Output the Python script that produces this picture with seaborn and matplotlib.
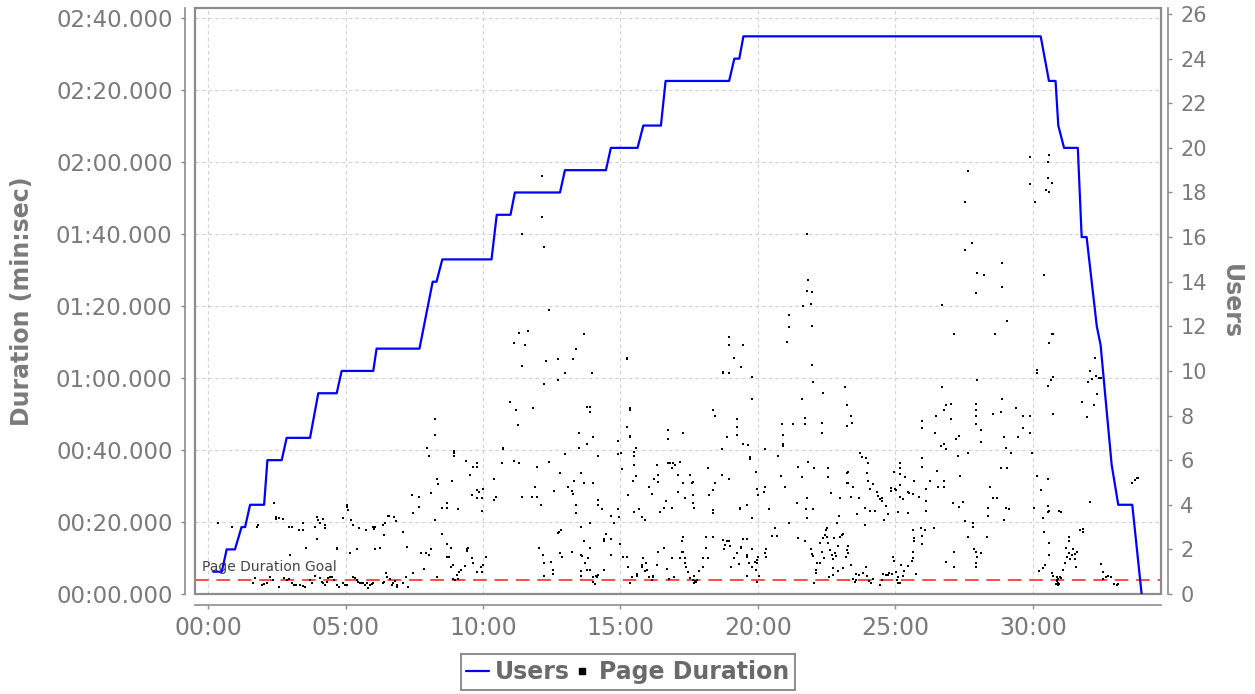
import matplotlib
matplotlib.use("Agg")
import matplotlib.pyplot as plt
import matplotlib.transforms as mtransforms
import seaborn as sns
import pandas as pd
from matplotlib.ticker import FuncFormatter, MultipleLocator
from matplotlib.lines import Line2D
from matplotlib.patches import Rectangle

# ---------------- data ----------------
# Users over time (minutes, users)
user_minutes = [0.19, 0.50, 0.68, 0.98, 1.22, 1.35, 1.53, 2.04, 2.16, 2.68, 2.86, 3.71,
                4.01, 4.68, 4.86, 6.01, 6.13, 7.69, 8.17, 8.31, 8.52, 10.31, 10.50, 11.00,
                11.16, 12.80, 12.98, 14.47, 14.65, 15.62, 15.83, 16.47, 16.64, 18.95, 19.14,
                19.32, 19.47, 30.28, 30.58, 30.82, 30.92, 31.13, 31.63, 31.77, 31.95, 32.32,
                32.46, 32.65, 32.86, 33.10, 33.61, 33.95]
user_counts = [1, 1, 2, 2, 3, 3, 4, 4, 6, 6, 7, 7,
               9, 9, 10, 10, 11, 11, 14, 14, 15, 15, 17, 17,
               18, 18, 19, 19, 20, 20, 21, 21, 23, 23, 24,
               24, 25, 25, 23, 23, 21, 20, 20, 16, 16, 12,
               11.15, 8.6, 5.8, 4, 4, 0]

# Page durations: (elapsed minutes, duration seconds), grouped by test phase
page_ramp_early = [
    (0.38, 19.6), (0.88, 18.7), (1.83, 19.2), (1.77, 18.7), (2.41, 25.2), (2.47, 21.5), (2.47, 20.7),
    (2.59, 21.0), (2.74, 20.7), (2.93, 18.7), (3.04, 18.7), (3.32, 17.8), (3.47, 17.8), (3.47, 19.6),
    (3.56, 12.9), (3.95, 21.5), (4.01, 20.5), (4.07, 19.6), (4.19, 20.7), (4.25, 19.2), (4.25, 18.2),
    (3.89, 18.7), (3.95, 15.3), (2.98, 10.8), (4.68, 12.7), (4.68, 12.4), (4.92, 21.0), (5.04, 24.7),
    (5.06, 24.3), (5.10, 23.3), (5.20, 20.5), (5.26, 19.2), (5.16, 11.3), (5.43, 12.4), (5.50, 18.2),
    (5.75, 17.8), (6.01, 18.7), (6.03, 18.1), (6.07, 18.5), (6.07, 12.4), (6.25, 12.9), (6.35, 19.2),
    (6.44, 19.6), (6.41, 16.4), (6.53, 21.7), (6.59, 21.7), (6.76, 21.5), (6.82, 20.4), (7.10, 17.3),
    (7.22, 13.1), (7.41, 27.5), (7.47, 22.6), (7.68, 27.0), (7.68, 24.1), (7.73, 11.3), (7.93, 11.3),
    (8.05, 10.8), (8.10, 12.4), (7.87, 6.9), (7.95, 40.7), (8.05, 38.3), (8.25, 48.5), (8.25, 44.2),
    (8.31, 31.9), (8.38, 30.5), (8.11, 28.1), (8.25, 20.5), (8.50, 24.0), (8.68, 25.2), (8.70, 24.0),
    (8.50, 16.7), (8.68, 13.8), (8.82, 12.9), (8.70, 10.4), (8.76, 10.4), (8.88, 31.4), (8.96, 39.7),
    (8.96, 39.1), (8.96, 38.3), (9.08, 23.5), (8.84, 7.6), (8.90, 8.1), (9.04, 5.3), (9.14, 6.2),
    (9.19, 6.7), (9.35, 7.8), (9.38, 36.9), (9.41, 11.9), (9.43, 12.4), (9.47, 12.9), (9.53, 33.1),
    (9.59, 27.5), (9.59, 9.9), (9.62, 8.5), (9.65, 35.4), (9.77, 36.3), (9.79, 35.4), (9.77, 28.9),
    (9.87, 28.4), (10.01, 29.3), (9.79, 26.6), (9.98, 26.6), (9.98, 23.1), (9.79, 6.2), (9.91, 7.6),
    (9.98, 6.2), (10.01, 8.1), (10.11, 10.4), (10.41, 31.9), (10.41, 26.1), (10.47, 27.0), (10.68, 36.3),
    (10.74, 40.5), (10.74, 40.2), (10.98, 53.4), (11.13, 69.6), (11.20, 51.1), (11.26, 46.9),
    (11.14, 36.9), (11.32, 36.3), (11.32, 72.6),
    (1.65, 3.0), (1.71, 4.4), (1.95, 2.5), (2.04, 2.7), (2.16, 3.0), (2.25, 4.8), (2.38, 3.9),
    (2.59, 2.0), (2.76, 4.4), (2.86, 3.9), (2.96, 4.1), (3.04, 3.0), (3.13, 2.5), (3.20, 2.5),
    (3.35, 2.5), (3.47, 2.2), (3.53, 2.0), (3.71, 3.9), (3.77, 3.0), (3.89, 5.0), (4.07, 4.4),
    (4.13, 3.4), (4.19, 3.0), (4.25, 2.5), (4.31, 3.4), (4.38, 4.4), (4.44, 4.8), (4.50, 4.8),
    (4.58, 3.9), (4.68, 2.5), (4.78, 2.0), (4.92, 3.0), (4.98, 2.5), (5.04, 2.5), (5.26, 4.8),
    (5.34, 4.4), (5.41, 3.9), (5.47, 3.4), (5.53, 3.0), (5.59, 3.1), (5.65, 3.0), (5.71, 2.5),
    (5.77, 3.0), (5.83, 1.8), (5.89, 2.5), (5.95, 2.8), (6.01, 3.1), (6.35, 3.0), (6.41, 3.4),
    (6.46, 5.9), (6.50, 4.6), (6.62, 4.3), (6.70, 2.5), (6.74, 3.0), (6.80, 3.6), (6.86, 2.5),
    (6.88, 2.0), (7.10, 3.1), (7.20, 4.6), (7.28, 2.0), (7.47, 5.9), (8.31, 4.6), (8.92, 4.1),
    (8.98, 3.9), (9.10, 4.1),
]

page_ramp_late = [
    (12.16, 116.1), (12.16, 104.8), (11.40, 99.9), (12.23, 96.5), (21.77, 99.9), (21.83, 87.2),
    (21.77, 84.3), (21.95, 83.8),
    (12.41, 78.9), (11.65, 73.1), (11.53, 69.2), (11.40, 63.3), (11.83, 51.6), (12.28, 64.7),
    (12.22, 58.3), (12.74, 65.2), (12.74, 59.4), (12.98, 61.3), (13.26, 65.2), (13.38, 68.1),
    (13.68, 72.1), (13.95, 61.3), (13.77, 52.0), (13.89, 52.0), (13.89, 50.5), (14.01, 43.7),
    (13.80, 41.7), (13.50, 44.6), (13.50, 40.7), (11.40, 27.0), (11.77, 27.0), (11.95, 27.0),
    (11.97, 35.4), (11.89, 29.8), (12.10, 24.6), (12.41, 36.8), (12.80, 33.5), (12.99, 38.8),
    (12.59, 28.5), (13.10, 29.6), (13.22, 28.6), (13.28, 27.9), (13.31, 31.5), (13.37, 24.7),
    (13.37, 22.6), (13.56, 33.7), (13.56, 18.7), (13.68, 30.9), (14.01, 30.9), (14.19, 38.3),
    (14.19, 26.1), (14.19, 24.7), (14.34, 23.6), (14.65, 21.7), (14.65, 15.2), (14.77, 19.6),
    (14.90, 38.8), (14.92, 42.6), (15.02, 39.3), (15.04, 34.8), (15.22, 65.6), (15.22, 65.3),
    (15.34, 51.8), (15.34, 51.1), (15.22, 46.5), (15.34, 44.0), (15.34, 43.7), (15.49, 39.5),
    (15.49, 38.3), (15.49, 35.8), (15.56, 40.7), (15.55, 32.9), (15.46, 31.4), (15.28, 27.5),
    (14.92, 23.6), (14.96, 21.5), (15.49, 22.9), (15.68, 23.5), (15.80, 21.5), (15.89, 20.5),
    (16.05, 29.8), (16.13, 27.9), (16.22, 31.9), (16.31, 35.8), (16.37, 33.1), (16.37, 31.2),
    (16.43, 22.9), (16.58, 24.0), (16.64, 25.9), (16.71, 45.5), (16.71, 43.2), (16.71, 36.3),
    (16.80, 36.3), (16.92, 36.3), (16.98, 35.8), (16.88, 34.9), (16.88, 24.0), (17.08, 33.1),
    (17.08, 28.4), (17.16, 36.7), (17.28, 44.6), (17.28, 30.9), (17.34, 26.6), (17.53, 33.1),
    (17.59, 30.7), (17.65, 31.2), (17.65, 27.5), (17.62, 25.2), (17.68, 24.0), (18.19, 34.9),
    (18.23, 27.5), (18.37, 51.1), (18.43, 49.4), (18.43, 30.9), (18.37, 28.9), (18.37, 23.3),
    (18.37, 22.6), (18.70, 40.2), (18.70, 33.1), (18.74, 61.8), (18.74, 61.5), (18.94, 61.3),
    (18.94, 71.5), (18.96, 69.2), (19.14, 65.7), (19.38, 63.1), (19.47, 69.2), (18.88, 43.7),
    (18.96, 31.9), (19.22, 48.5), (19.22, 46.5), (19.22, 44.1), (19.47, 41.8), (19.65, 41.4),
    (19.71, 38.1), (19.71, 37.4), (19.77, 60.4), (19.79, 54.3), (19.91, 33.8), (19.97, 29.3),
    (20.01, 27.5), (20.25, 40.2), (20.25, 29.8), (20.23, 28.4), (19.59, 24.6), (19.34, 24.0),
    (19.34, 23.5), (19.79, 21.2), (20.41, 23.5), (20.74, 38.3), (20.82, 32.9), (20.86, 47.1),
    (20.92, 44.2), (20.92, 41.8), (20.92, 41.1), (20.98, 29.8), (21.13, 19.6), (21.26, 47.1),
    (21.13, 77.5), (21.13, 74.1), (21.06, 70.1), (21.65, 80.0), (21.91, 80.7), (21.95, 74.5),
    (21.95, 63.6), (22.01, 58.8), (21.59, 54.3), (21.71, 49.0), (21.71, 47.1), (21.83, 36.7),
    (21.59, 32.4), (21.46, 35.4), (21.43, 25.2), (21.77, 26.6), (21.74, 23.5), (22.01, 23.5),
    (21.77, 21.0), (22.03, 34.9), (22.35, 55.9), (22.34, 47.6), (22.34, 44.6), (22.53, 34.9),
    (22.53, 32.4), (22.65, 28.1), (22.98, 26.8), (22.96, 21.7),
    (12.05, 12.9), (12.17, 10.8), (12.23, 8.5), (12.23, 5.0), (12.47, 9.0), (12.53, 6.8),
    (12.56, 5.6), (12.74, 17.0), (12.77, 17.3), (12.82, 17.8), (12.80, 11.3), (12.86, 10.4),
    (13.22, 11.7), (13.56, 10.8), (13.59, 10.6), (13.56, 6.4), (13.56, 5.0), (13.68, 14.8),
    (13.71, 8.7), (13.77, 6.8), (13.83, 9.9), (13.89, 6.8), (13.89, 12.9), (13.89, 19.6),
    (13.99, 4.6), (14.01, 3.4), (14.07, 2.8), (14.11, 5.0), (14.16, 4.6), (14.19, 5.3),
    (14.41, 6.8), (14.40, 15.2), (14.40, 14.8), (14.47, 16.7), (14.65, 10.8), (14.98, 13.8),
    (15.10, 10.4), (15.22, 10.4), (15.28, 7.4), (15.34, 3.0), (15.43, 4.6), (15.61, 5.0),
    (15.61, 5.6), (15.77, 8.0), (15.80, 7.4), (15.83, 9.9), (15.89, 6.5), (15.93, 8.5),
    (15.95, 6.8), (16.05, 4.8), (16.13, 3.9), (16.17, 4.6), (16.19, 5.0), (16.31, 8.0),
    (16.37, 11.7), (16.58, 12.9), (16.70, 6.9), (16.77, 4.3), (16.89, 9.9), (16.96, 4.6),
    (17.16, 9.9), (17.22, 11.7), (17.28, 15.9), (17.25, 14.8), (17.28, 11.7), (17.34, 9.9),
    (17.34, 8.5), (17.38, 7.6), (17.46, 6.2), (17.53, 4.4), (17.62, 3.9), (17.67, 3.1),
    (17.71, 3.3), (17.74, 3.7), (17.79, 3.9), (17.68, 5.0), (17.70, 3.6), (17.76, 3.2),
    (17.86, 6.4), (17.99, 7.4), (17.99, 9.9), (18.11, 12.9), (18.11, 15.7), (18.19, 9.9),
    (18.37, 15.7), (18.74, 15.0), (18.80, 13.6), (18.86, 14.8), (18.96, 14.8), (18.98, 13.3),
    (18.76, 12.4), (19.02, 7.4), (19.13, 9.9), (19.22, 11.3), (19.32, 8.3), (19.40, 13.1),
    (19.40, 12.9), (19.47, 15.2), (19.59, 15.2), (19.59, 10.8), (19.61, 10.4), (19.59, 5.0),
    (19.68, 8.5), (19.77, 12.4), (19.80, 7.4), (19.89, 9.0), (19.91, 6.7), (19.95, 9.4),
    (19.97, 8.5), (20.01, 10.4), (20.05, 5.0), (19.97, 3.4), (20.25, 11.3), (20.29, 12.4),
    (20.29, 10.4), (20.50, 16.2), (20.62, 18.2), (20.68, 16.2), (21.44, 15.6), (21.71, 14.8),
    (21.92, 12.4), (21.95, 11.0), (21.99, 10.6), (22.13, 8.5), (22.25, 8.5), (22.11, 6.7),
    (22.11, 5.9), (22.03, 3.0), (22.25, 14.1), (22.31, 11.7), (22.37, 15.5), (22.40, 10.1),
    (22.43, 16.4), (22.47, 17.9), (22.50, 18.2), (22.52, 15.9), (22.56, 14.1), (22.62, 12.2),
    (22.68, 10.8), (22.74, 9.6), (22.74, 7.1), (22.74, 5.3), (22.59, 4.6), (22.83, 10.6),
    (22.90, 13.3), (22.86, 19.6), (22.98, 15.9),
]

page_steady_and_down = [
    (29.89, 121.5), (30.60, 121.9), (30.56, 119.9), (29.89, 113.8), (30.54, 115.6), (30.68, 114.1),
    (30.47, 112.2), (30.60, 111.8), (30.07, 108.8), (27.65, 117.6), (27.53, 108.8), (27.80, 97.4),
    (27.53, 95.6), (28.89, 92.0), (27.98, 89.1), (28.23, 88.6), (30.41, 88.6), (28.89, 85.4),
    (27.92, 83.7),
    (26.70, 80.3), (27.14, 72.1), (28.62, 72.1), (29.07, 75.9), (27.98, 59.4), (26.70, 57.4),
    (23.17, 57.4), (23.23, 52.5), (23.37, 49.5), (23.43, 47.6), (23.25, 46.7), (26.84, 52.5),
    (27.01, 52.9), (26.77, 51.1), (26.47, 49.5), (27.01, 48.6), (25.95, 48.1), (25.95, 46.2),
    (26.44, 44.6), (26.64, 41.2), (26.77, 41.7), (26.83, 40.2), (27.20, 43.2), (27.32, 44.0),
    (27.29, 38.3), (27.92, 52.9), (27.92, 51.1), (27.92, 49.5), (27.92, 47.1), (28.11, 45.5),
    (28.11, 42.1), (28.56, 50.0), (28.83, 50.5), (28.89, 54.3), (29.38, 51.6), (29.65, 49.5),
    (29.89, 49.5), (29.65, 46.2), (29.47, 43.7), (29.89, 44.6), (28.95, 43.7), (29.01, 40.6),
    (29.20, 39.3), (29.95, 39.3), (27.65, 39.3), (30.16, 62.2), (30.16, 61.3), (30.68, 72.1),
    (30.74, 72.1), (30.60, 69.6), (30.54, 57.9), (30.66, 59.4), (30.74, 60.2), (30.74, 50.0),
    (25.95, 37.7), (25.95, 35.4), (26.50, 34.3), (26.26, 31.4), (26.56, 29.8), (26.77, 31.4),
    (26.77, 29.8), (27.35, 32.9), (28.83, 34.9), (29.07, 34.9), (28.44, 29.8), (28.56, 26.6),
    (28.68, 26.6), (28.38, 24.0), (28.38, 21.7), (29.01, 24.0), (29.14, 23.5), (28.95, 20.5),
    (27.10, 25.2), (27.32, 24.1), (27.47, 25.6), (27.53, 20.3), (27.81, 19.6), (27.81, 18.7),
    (27.65, 15.7), (28.32, 15.7), (27.86, 12.4), (27.93, 11.7), (28.11, 11.3), (27.98, 10.4),
    (27.92, 8.5), (27.92, 7.4), (27.14, 11.7), (27.14, 7.4), (26.84, 9.0), (26.40, 18.2),
    (26.11, 25.9), (26.11, 23.1), (25.93, 18.2), (26.07, 17.8), (25.95, 16.2), (25.95, 13.8),
    (25.65, 17.8), (25.67, 15.5), (25.69, 14.7), (25.65, 11.7), (25.63, 9.9), (25.59, 9.3),
    (25.47, 7.8), (25.75, 5.6), (25.31, 6.4), (25.20, 8.1), (25.26, 5.0), (25.10, 4.6),
    (25.04, 3.9), (25.02, 6.0), (25.10, 3.1), (25.17, 3.0), (24.92, 10.4), (24.96, 9.3),
    (24.86, 5.5), (24.66, 5.3), (24.56, 5.6), (24.74, 5.3), (24.78, 5.7), (24.50, 3.9),
    (24.44, 2.5), (24.17, 4.1), (24.10, 3.0), (24.05, 3.7), (23.95, 5.0), (23.93, 7.4),
    (23.83, 5.7), (23.69, 5.3), (23.57, 3.9), (23.57, 5.5), (23.44, 4.1), (23.53, 3.4),
    (23.08, 7.1), (22.92, 6.4), (23.37, 8.1), (23.29, 11.3), (23.29, 13.3), (23.25, 12.2),
    (23.20, 10.4), (23.04, 16.4), (23.08, 16.8), (22.77, 15.5), (22.80, 11.3), (23.25, 33.5),
    (23.29, 34.0), (23.23, 30.9), (23.29, 30.9), (23.44, 29.8), (23.37, 27.0), (23.69, 26.6),
    (23.61, 22.1), (23.71, 39.3), (23.77, 38.1), (23.93, 37.9), (24.01, 36.3), (23.95, 33.7),
    (24.01, 31.5), (24.07, 29.3), (24.17, 30.5), (23.89, 24.0), (23.89, 19.2), (24.07, 23.1),
    (24.26, 23.1), (24.34, 28.4), (24.38, 27.3), (24.50, 26.6), (24.50, 25.9), (24.44, 26.4),
    (24.58, 20.5), (24.66, 24.5), (24.72, 22.2), (24.83, 29.5), (24.83, 28.6), (24.96, 33.8),
    (24.98, 29.1), (25.02, 28.9), (25.17, 36.3), (25.17, 35.1), (25.17, 33.3), (25.17, 30.3),
    (25.17, 27.0), (25.35, 32.4), (25.29, 26.4), (25.47, 28.2), (25.50, 28.1), (25.63, 27.8),
    (25.10, 22.7), (25.47, 22.6), (25.67, 31.4), (25.86, 27.0), (26.11, 29.1),
    (30.16, 32.9), (30.54, 31.9), (30.29, 28.9), (30.04, 24.0), (30.35, 21.0), (30.54, 24.5),
    (30.56, 22.9), (30.60, 23.1), (30.96, 23.1), (31.01, 22.9), (30.41, 17.3), (30.60, 14.3),
    (30.60, 10.8), (30.44, 8.1), (30.23, 6.4), (30.38, 7.1), (30.68, 5.7), (30.72, 5.0),
    (30.86, 3.9), (30.92, 3.1), (30.98, 4.8), (31.01, 4.4), (30.84, 2.8), (30.90, 2.5),
    (30.88, 3.5), (30.90, 4.2), (30.94, 2.9), (30.86, 4.6), (31.10, 6.7), (31.17, 8.5),
    (31.23, 10.4), (31.32, 11.3), (31.35, 9.6), (31.32, 15.7), (31.32, 14.8), (31.20, 12.7),
    (31.41, 10.8), (31.47, 12.4), (31.53, 11.1), (31.59, 11.7), (31.57, 7.6), (31.53, 9.6),
    (31.71, 17.8), (31.83, 18.1), (31.83, 17.1), (32.07, 25.6), (31.95, 49.1), (32.01, 58.8),
    (32.07, 61.9), (32.16, 59.7), (32.28, 60.6), (32.41, 59.9), (32.46, 59.9), (32.26, 65.7),
    (32.34, 55.5), (32.22, 52.5), (31.77, 53.4), (32.46, 8.3), (32.56, 6.2), (32.66, 4.8),
    (32.74, 5.0), (32.84, 4.6), (32.56, 4.1), (32.95, 2.8), (33.04, 2.5), (33.10, 2.8),
    (33.61, 30.9), (33.71, 31.7), (33.77, 32.1), (33.83, 32.1),
]

goal_seconds = 4
goal_label = "Page Duration Goal"
x_label_ticks = [0, 5, 10, 15, 20, 25, 30]

# ---------------- frames ----------------
pages = page_ramp_early + page_ramp_late + page_steady_and_down
dur_df = pd.DataFrame(pages, columns=["minute", "seconds"])
users_df = pd.DataFrame({"minute": user_minutes, "users": user_counts})

sns.set_theme(style="white")
plt.rcParams["font.family"] = ["DejaVu Sans"]

GRAY_TXT = "#7a7a7a"
GRAY_LINE = "#8c8c8c"

fig = plt.figure(figsize=(12.55, 6.94), dpi=100)
ax = fig.add_axes([195 / 1255, 100 / 694, 966 / 1255, 586 / 694])
ax2 = ax.twinx()

sns.scatterplot(data=dur_df, x="minute", y="seconds", ax=ax, marker="s", s=3.6,
                color="black", linewidth=0, zorder=3, legend=False)
ax.axhline(goal_seconds, color="#ff4a4a", linewidth=1.4, dashes=(7, 4), zorder=2)
trans = mtransforms.blended_transform_factory(ax.transAxes, ax.transData)
ax.text(0.007, goal_seconds + 2.5, goal_label, transform=trans, fontsize=10,
        color="#444444", va="baseline", ha="left", zorder=4)

sns.lineplot(data=users_df, x="minute", y="users", ax=ax2, color="#0000ff",
             linewidth=1.6, estimator=None, sort=False, legend=False)

ax.set_xlim(-0.473, 34.655)
ax.set_ylim(0, 162.8)
ax2.set_ylim(0, 26.27)

ax.set_xticks(x_label_ticks)
ax.xaxis.set_major_formatter(FuncFormatter(lambda v, p: f"{int(round(v)):02d}:00"))
ax.yaxis.set_major_locator(MultipleLocator(20))
ax.yaxis.set_major_formatter(FuncFormatter(
    lambda v, p: f"{int(round(v)) // 60:02d}:{int(round(v)) % 60:02d}.000"))
ax2.yaxis.set_major_locator(MultipleLocator(2))
ax2.yaxis.set_major_formatter(FuncFormatter(lambda v, p: f"{int(round(v))}"))

ax.grid(True, color="#cfcfcf", linestyle=(0, (3, 3)), linewidth=0.8)
ax.set_axisbelow(True)

# spines: offset axis lines like the original
for s in ["top", "right"]:
    ax.spines[s].set_visible(False)
for s in ["top", "left", "bottom"]:
    ax2.spines[s].set_visible(False)
ax.spines["left"].set_position(("outward", 7.2))
ax.spines["bottom"].set_position(("outward", 7.9))
ax2.spines["right"].set_position(("outward", 5.0))
for sp in [ax.spines["left"], ax.spines["bottom"], ax2.spines["right"]]:
    sp.set_visible(True)
    sp.set_color(GRAY_LINE)
    sp.set_linewidth(1.2)

ax.add_patch(Rectangle((0, 0), 1, 1, transform=ax.transAxes, fill=False,
                       edgecolor=GRAY_LINE, linewidth=1.6, clip_on=False, zorder=10))

ax.tick_params(axis="x", bottom=True, direction="out", length=3, width=1,
               color=GRAY_LINE, labelcolor=GRAY_TXT, labelsize=17, pad=5)
ax.tick_params(axis="y", left=True, direction="out", length=3, width=1,
               color=GRAY_LINE, labelcolor=GRAY_TXT, labelsize=16.5, pad=6)
ax2.tick_params(axis="y", right=True, direction="out", length=3, width=1,
                color=GRAY_LINE, labelcolor=GRAY_TXT, labelsize=15, pad=6)

ax.set_xlabel("")
ax.set_ylabel("Duration (min:sec)", fontsize=17, fontweight="bold", color=GRAY_TXT)
ax.yaxis.set_label_coords((22 - 195) / 966, 0.5)
ax.yaxis.label.set_verticalalignment("center")
ax2.set_ylabel("Users", fontsize=17, fontweight="bold", color=GRAY_TXT, rotation=270)
ax2.yaxis.set_label_coords((1231 - 195) / 966, 0.5)
ax2.yaxis.label.set_verticalalignment("center")

handles = [Line2D([0], [0], color="#0000ff", linewidth=1.6),
           Line2D([0], [0], marker="s", color="black", linestyle="None", markersize=5)]
leg = fig.legend(handles, ["Users", "Page Duration"], loc="center",
                 bbox_to_anchor=(628 / 1255, 1 - 672 / 694), ncol=2, frameon=True,
                 fancybox=False, edgecolor=GRAY_LINE, framealpha=1,
                 prop={"size": 17, "weight": "bold"}, labelcolor="#6a6a6a",
                 handlelength=0.95, handletextpad=0.25, columnspacing=0.05,
                 borderpad=0.25, borderaxespad=0)
leg.get_frame().set_linewidth(1.4)

fig.savefig("out.png", dpi=100)
